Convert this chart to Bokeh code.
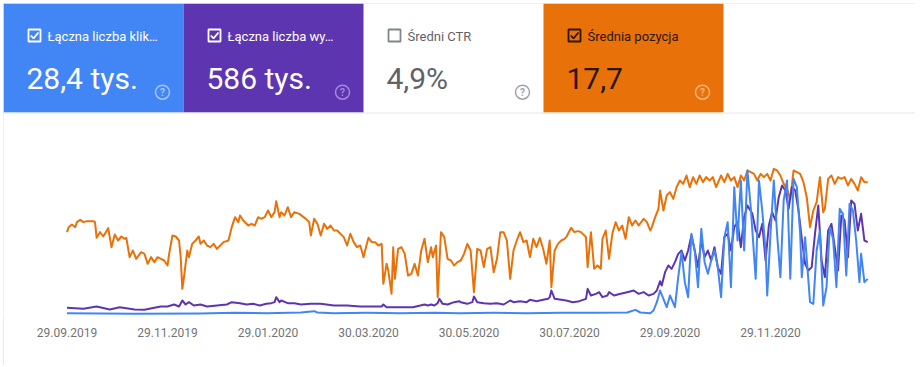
import pandas as pd
from bokeh.plotting import figure
from bokeh.models import Range1d, FixedTicker, DatetimeTickFormatter
from bokeh.core.properties import value
from bokeh.embed import file_html
from bokeh.resources import INLINE

# ---------------- data ----------------
START = "2019-09-29"
TICK_LABELS = ["29.09.2019", "29.11.2019", "29.01.2020", "30.03.2020",
               "30.05.2020", "30.07.2020", "29.09.2020", "29.11.2020"]

CARD_LABELS = ["Łączna liczba klik…", "Łączna liczba wy…", "Średni CTR", "Średnia pozycja"]
CARD_VALUES = ["28,4 tys.", "586 tys.", "4,9%", "17,7"]
CARD_CHECKED = [True, True, False, True]

# (day since START, average position)
POSITION = [
    (0,30.5),(1,29),(3,28.2),(5,29),(6,27.5),(8,26.8),(10,27.5),(12,27.2),(16,27.2),(17,27.5),
    (18,32.2),(20,30.5),(22,31.8),(25,29.3),(27,35),(29,31.2),(31,33),(33,31.8),(35,32.5),(36,32.2),
    (38,38),(40,36),(42,38.5),(45,36.5),(47,37),(49,40),(51,38),(53,39.5),(55,38),(57,38.5),
    (59,39),(61,40.5),(62,37),(64,31.5),(66,31.8),(68,33),(69,38),(70,47.5),(71,44),(73,36),
    (74,38),(76,34),(78,33),(80,31.8),(81,34),(83,33),(85,34.5),(87,35),(89,34),(91,35.5),
    (93,34.5),(95,33.5),(98,33),(100,29),(102,26),(104,27.5),(105,25.5),(107,27),(110,28.5),(112,28),
    (114,28.5),(116,26),(118,26.5),(120,26),(122,24),(124,26),(126,24.5),(127,21.2),(129,26),(130,24.5),
    (132,25.5),(134,23),(136,26),(138,24.5),(141,25),(145,26.5),(147,27.5),(148,31.5),(150,26.5),(152,28),
    (154,31.5),(156,28),(158,29.5),(160,28.5),(162,30),(164,30),(166,31),(168,32),(170,34.5),(172,31),
    (174,33.5),(176,35),(178,34.5),(180,38),(182,34),(183,32.2),(185,33.5),(187,33.5),(189,34.5),(191,34),
    (192,46),(194,40),(195,42),(197,49),(198,35),(199,44.5),(201,35.5),(203,35),(205,37),(207,43.5),
    (209,43),(211,40),(213,43.5),(215,36),(217,32.5),(219,39.5),(221,35),(222,38),(224,34.5),(225,50),
    (227,30.5),(229,32),(231,38.5),(233,39),(235,40.5),(237,39.5),
    (239,39),(241,37),(243,34),(245,36),(247,48.5),(249,35.5),(251,36),(253,41),(255,35.5),(257,35),
    (259,42.5),(261,38.5),(263,30.5),(265,30.5),(267,33),(269,44.5),(271,36),(273,33),(275,30.5),(277,33.5),
    (279,33),(281,38),(283,32.5),(285,35),(287,32.2),(289,35.5),(291,40),(293,33),(294,47),(296,36),
    (298,34),(300,33),(302,32.5),(303,32),(306,29.2),(308,30.5),(310,30.2),(312,30.5),(315,32),(316,41),
    (318,30.5),(320,41.5),(322,40.5),(324,41.5),(325,32.5),(327,30),(329,38.5),(331,31),(333,27.5),(335,30),
    (337,28.5),(339,32.5),(341,26),(343,28.5),(345,27),(347,28.5),(350,26.5),(352,27.5),(354,30),(355,29),
    (357,26),(359,23.5),(360,18),(362,24),(364,19.5),(366,18.5),(368,20.5),(370,17),(372,15),(374,16),
    (376,13.5),(378,17),(380,14),(382,16),(384,13.5),(386,15.5),(388,14),(390,15),(392,14),(394,17),
    (397,13.5),(399,15.5),(401,13),(403,15),(405,14),(407,17),(409,13.5),(411,15),(413,12),(415,12.5),
    (417,13),(419,15),(421,13),(423,14),(425,13),(427,15),(429,11.5),(431,12),(433,13.5),(435,16),
    (437,17.5),(439,20.5),(441,12),(443,12.5),(445,13),(447,15.5),(449,20),(451,29),(453,24),(455,21.5),
    (457,14),(459,24.5),(460,23.5),(462,14.5),(464,13.5),(466,16),(468,14),(470,14.5),(472,14),(474,16.5),
    (476,14.5),(478,16),(480,18),(482,14),(484,15.5),(486,15.5),
]

# (day since START, impressions)
IMPRESSIONS = [
    (0,160),(10,100),(18,240),(26,60),(32,200),(41,60),(47,40),(53,160),(57,240),(61,240),
    (65,360),(68,240),(70,600),(72,360),(74,500),(77,300),(81,360),(85,240),(91,300),(97,360),
    (100,500),(105,440),(109,360),(113,400),(117,300),(121,400),(124,440),(126,500),(127,800),(129,500),
    (130,600),(134,440),(138,440),(142,360),(148,400),(154,400),(162,300),(170,300),(178,240),(186,240),
    (191,240),(192,360),(194,200),(202,200),(210,200),(217,360),(219,300),(221,360),(223,300),(225,440),
    (226,700),(228,400),(231,360),(235,500),(238,560),
    (239,500),(243,400),(246,500),(247,840),(249,500),(253,440),(257,400),(261,440),(265,360),(269,600),
    (271,500),(275,560),(279,500),(281,640),(285,560),(289,640),(292,700),(293,800),(294,1200),(296,700),
    (300,640),(303,600),(307,500),(311,560),(315,700),(316,1300),(318,900),(321,1000),(323,1100),(325,800),
    (328,900),(329,1100),(332,900),(336,1000),(340,1100),(344,1200),(347,1000),(350,1100),(353,900),(356,1000),
    (358,1200),(360,1760),(361,1500),(363,2300),(365,2700),(367,2500),(369,2900),(371,3400),(373,3600),(375,3000),
    (377,3600),(379,4500),(381,3600),(383,2600),(385,4200),(387,3200),(389,3600),(391,3000),(393,3800),(395,2600),
    (397,2200),(399,4400),(401,4600),(403,3600),(405,5000),(407,5300),(409,3800),(411,5600),(413,6300),(416,5800),
    (418,4800),(420,4400),(422,5200),(424,3000),(426,5100),(428,5900),(430,5400),(432,6800),(434,7500),(436,7200),
    (438,6100),(440,7400),(442,7200),(444,6000),(446,4300),(448,2800),(450,2400),(452,2600),(454,4600),(456,6300),
    (458,3000),(460,2000),(462,4800),(464,5200),(466,3800),(468,2400),(470,5700),(472,5400),(474,3200),(476,6600),
    (478,6400),(480,4800),(482,5800),(484,4200),(486,4100),
]

# (day since START, clicks)
CLICKS = [
    (0,12),(41,10),(81,11),(101,13),(121,12),(142,14),(150,18),(152,14),(162,12),(182,13),(202,12),
    (223,13),(238,12),(239,12),(259,13),(279,12),(300,13),(320,13),(340,14),(345,22),(348,14),(354,12),
    (356,20),(358,45),(360,80),(362,55),(364,30),(366,65),(369,30),(371,120),(373,195),(375,105),(377,60),
    (379,250),(381,200),(383,90),(385,265),(387,165),(389,130),(391,170),(393,200),(395,150),(397,60),
    (399,240),(401,285),(403,90),(405,390),(407,230),(409,410),(411,200),(413,440),(415,330),(418,115),
    (420,410),(422,320),(424,200),(425,65),(427,250),(429,410),(431,250),(433,120),(435,350),(437,410),
    (439,115),(441,415),(443,390),(445,250),(446,120),(448,240),(451,45),(453,40),(455,200),(457,260),
    (459,35),(461,90),(463,270),(465,235),(467,90),(469,325),(471,310),(473,125),(475,340),(477,320),
    (479,230),(481,105),(482,190),(484,105),(486,115),
]

# ---------------- layout constants (reference pixels) ----------------
ORIGIN = 3            # page pixel of figure's top-left corner
W, H = 912, 362
FRAME_BOTTOM = 318
X0_PX = 66.5          # pixel of START
PX_PER_DAY = 100.5 / 61
DAY_MS = 86400000.0

start_ms = pd.Timestamp(START).value / 1e6


def to_dates(pairs):
    return [pd.Timestamp(START) + pd.Timedelta(days=d) for d, _ in pairs], [v for _, v in pairs]


x_start = start_ms + (ORIGIN - X0_PX) / PX_PER_DAY * DAY_MS
x_end = start_ms + (ORIGIN + W - X0_PX) / PX_PER_DAY * DAY_MS

p = figure(width=W, height=H, x_axis_type="datetime",
           x_range=Range1d(x_start, x_end),
           y_range=Range1d(0.3 * FRAME_BOTTOM - 39, 0.3 * ORIGIN - 39),
           output_backend="svg", toolbar_location=None,
           min_border_left=0, min_border_right=0, min_border_top=0,
           min_border_bottom=H - (FRAME_BOTTOM - ORIGIN),
           y_axis_location=None, outline_line_color=None,
           background_fill_color="white", border_fill_color="white",
           styles={"margin-left": "3px", "margin-top": "3px",
                   "outline": "1px solid #e2e2e2", "outline-offset": "-1px"})
p.grid.visible = False
p.extra_y_ranges = {
    "clicks": Range1d(950 - 3 * FRAME_BOTTOM, 950 - 3 * ORIGIN),
    "impr": Range1d(18600 - 60 * FRAME_BOTTOM, 18600 - 60 * ORIGIN),
    "sy": Range1d(FRAME_BOTTOM, ORIGIN),
}
p.extra_x_ranges = {"sx": Range1d(ORIGIN, ORIGIN + W)}

# ---------------- axis ----------------
tick_ts = pd.to_datetime(TICK_LABELS, format="%d.%m.%Y")
tick_ms = [t.value / 1e6 for t in tick_ts]
ax = p.xaxis[0]
ax.ticker = FixedTicker(ticks=tick_ms)
fmt = "%d.%m.%Y"
ax.formatter = DatetimeTickFormatter(microseconds=fmt, milliseconds=fmt, seconds=fmt, minsec=fmt,
                                     minutes=fmt, hourmin=fmt, hours=fmt, days=fmt, months=fmt, years=fmt)
ax.major_label_overrides = {ms: lab for ms, lab in zip(tick_ms, TICK_LABELS)}
ax.axis_line_color = None
ax.major_tick_line_color = None
ax.minor_tick_line_color = None
ax.major_tick_out = 0
ax.major_label_standoff = 9
ax.major_label_text_font = "Roboto"
ax.major_label_text_font_size = "12px"
ax.major_label_text_color = "#737373"

# ---------------- cards ----------------
FILLS = ["#4285f4", "#5e35b1", None, "#e8710a"]
TEXT_COL = ["#ffffff", "#ffffff", "#5f6368", "#2b1605"]
BOX_COL = ["#ffffff", "#ffffff", "#80868b", "#2b1605"]
HELP_COL = ["#a6c6fb", "#a28ad9", "#a0a4a8", "#f7b57a"]
CARD_W = 180
for i in range(4):
    L = ORIGIN + CARD_W * i
    if FILLS[i]:
        p.quad(left=[L], right=[L + CARD_W], top=[ORIGIN], bottom=[112],
               fill_color=FILLS[i], line_color=None, x_range_name="sx", y_range_name="sy")
    p.quad(left=[L + 25], right=[L + 37], top=[29], bottom=[41], fill_color=None,
           line_color=BOX_COL[i], line_width=1.8, x_range_name="sx", y_range_name="sy")
    if CARD_CHECKED[i]:
        p.line(x=[L + 27.3, L + 30, L + 35], y=[35, 37.8, 32], line_color=BOX_COL[i],
               line_width=1.8, x_range_name="sx", y_range_name="sy")
    p.text(x=[L + 44], y=[35.5], text=[CARD_LABELS[i]], text_color=TEXT_COL[i],
           text_font=value("Roboto"), text_font_size="13px", text_baseline="middle",
           x_range_name="sx", y_range_name="sy")
    p.text(x=[L + 23], y=[78], text=[CARD_VALUES[i]], text_color=TEXT_COL[i],
           text_font=value("Roboto"), text_font_size="30px", text_baseline="alphabetic",
           x_range_name="sx", y_range_name="sy")
    p.scatter(x=[L + 159], y=[91.7], marker="circle", size=14, fill_color=None,
              line_color=HELP_COL[i], line_width=1.5, x_range_name="sx", y_range_name="sy")
    p.text(x=[L + 159], y=[92.2], text=["?"], text_color=HELP_COL[i], text_font=value("Roboto"),
           text_font_size="10px", text_font_style="bold", text_align="center",
           text_baseline="middle", x_range_name="sx", y_range_name="sy")

p.line(x=[ORIGIN, ORIGIN + W], y=[112.5, 112.5], line_color="#e6e6e6", line_width=1,
       x_range_name="sx", y_range_name="sy")

# ---------------- series ----------------
px, py = to_dates(POSITION)
ix, iy = to_dates(IMPRESSIONS)
cx, cy = to_dates(CLICKS)
p.line(px, py, line_color="#e8710a", line_width=2, line_join="round")
p.line(ix, iy, line_color="#5e35b1", line_width=2, line_join="round", y_range_name="impr")
p.line(cx, cy, line_color="#4285f4", line_width=2, line_join="round", y_range_name="clicks")

open("out.html", "w").write(file_html(p, INLINE))
